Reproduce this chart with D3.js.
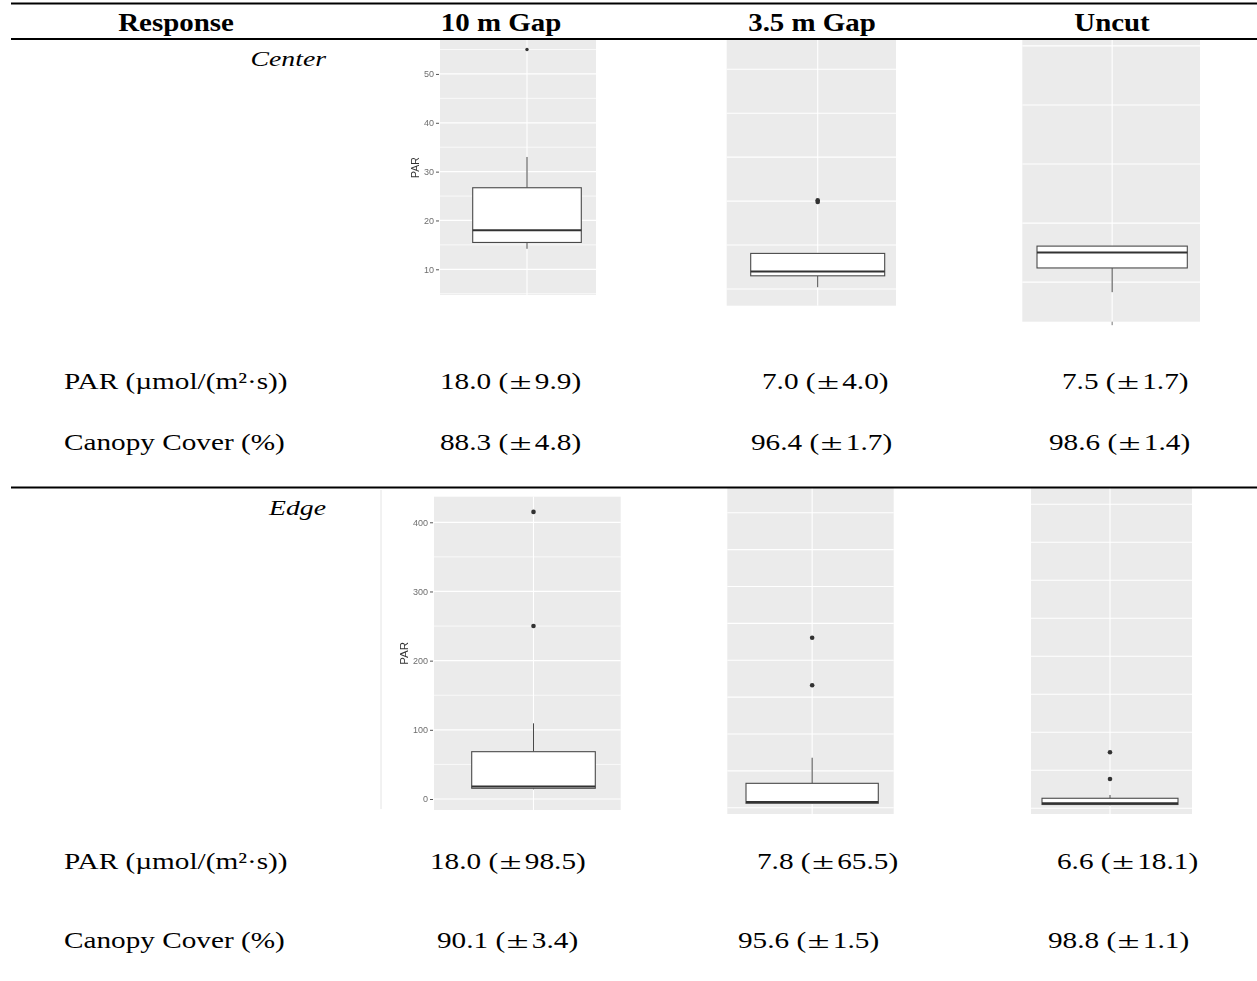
<!DOCTYPE html>
<html>
<head>
<meta charset="utf-8">
<script src="https://cdn.jsdelivr.net/npm/d3@7"></script>
<style>
  body { margin: 0; background: #fff; }
  svg { display: block; }
</style>
</head>
<body>
<svg id="chart" width="1257" height="981"></svg>
<script>
// ---------- table content ----------
const treatments = ["10 m Gap", "3.5 m Gap", "Uncut"];
const positions = ["Center", "Edge"];
const responseLabels = ["PAR (\u00b5mol/(m\u00b2\u00b7s))", "Canopy Cover (%)"];

// summary values (median ± spread) per treatment
const centerPar = [18.0, 7.0, 7.5];
const centerParSpread = [9.9, 4.0, 1.7];
const centerCanopy = [88.3, 96.4, 98.6];
const centerCanopySpread = [4.8, 1.7, 1.4];
const edgePar = [18.0, 7.8, 6.6];
const edgeParSpread = [98.5, 65.5, 18.1];
const edgeCanopy = [90.1, 95.6, 98.8];
const edgeCanopySpread = [3.4, 1.5, 1.1];

// PAR box plot summaries (median comes from the PAR arrays above)
const centerLower = [14.2, 5.2, 6.83];
const centerQ1 = [15.5, 6.5, 7.24];
const centerQ3 = [26.7, 9.05, 7.61];
const centerUpper = [33.0, 9.05, 7.61];
const centerOutliers = [[55.0], [14.9, 15.1], []];
const edgeLower = [14.0, 5.5, 4.0];
const edgeQ1 = [15.5, 6.0, 5.0];
const edgeQ3 = [68.4, 33.1, 13.2];
const edgeUpper = [109.4, 67.8, 17.5];
const edgeOutliers = [[250, 415], [166, 230.5], [38.6, 73.7]];

// axis ticks, grid breaks and y limits of each panel
const centerTicks = [10, 20, 30, 40, 50];
const edgeTicks = [0, 100, 200, 300, 400];
const centerGrid = [
  [5, 10, 15, 20, 25, 30, 35, 40, 45, 50, 55],
  [5, 10, 15, 20, 25, 30],
  [7, 8, 9, 10, 11]
];
const edgeGrid = [
  [0, 50, 100, 150, 200, 250, 300, 350, 400],
  [0, 50, 100, 150, 200, 250, 300, 350, 400],
  [0, 50, 100, 150, 200, 250, 300, 350, 400]
];
const centerLimits = [[4.74, 56.95], [3.1, 33.33], [6.33, 11.1]];
const edgeLimits = [[-15.9, 437], [-8.5, 433.5], [-7.5, 421.4]];

// ---------- layout ----------
const panelLayout = {
  Center: [
    { bg: [440, 596, 40, 295], box: [472.7, 581.3], axis: true, titleSize: 10.5, r: 1.7, xtick: false },
    { bg: [726.7, 896, 40, 305.7], box: [750.7, 884.7], axis: false, r: 2.3, xtick: false },
    { bg: [1022.3, 1200, 40, 321.7], box: [1037, 1187.3], axis: false, r: 2.3, xtick: true }
  ],
  Edge: [
    { bg: [434, 620.7, 496.7, 810], box: [471.7, 595.3], axis: true, titleSize: 11.5, r: 2.3, xtick: false },
    { bg: [727.3, 893.7, 488, 814], box: [746, 878.3], axis: false, r: 2.3, xtick: false },
    { bg: [1031, 1192, 488, 814], box: [1042, 1178], axis: false, r: 2.3, xtick: false }
  ]
};
const headerX = [176, 501, 812, 1112];
const valueX = {
  centerPar: [440, 762, 1062],
  centerCanopy: [440, 751, 1049],
  edgePar: [430, 757, 1057],
  edgeCanopy: [437, 738, 1048]
};

const serif = "'Liberation Serif','Times New Roman',Times,serif";
const sans = "'Liberation Sans',Arial,Helvetica,sans-serif";

const svg = d3.select("#chart");
svg.append("rect").attr("width", 1257).attr("height", 981).attr("fill", "#fff");

const defs = svg.append("defs");
defs.append("filter").attr("id", "soft").attr("x", "-5%").attr("y", "-5%")
  .attr("width", "110%").attr("height", "110%")
  .append("feGaussianBlur").attr("stdDeviation", 0.35);

// ---------- ggplot-style box plot panels ----------
function drawPanel(L, stats, grid, limits, ticks) {
  const g = svg.append("g").attr("filter", "url(#soft)");
  const [x0, x1, y0, y1] = L.bg;
  const y = d3.scaleLinear().domain(limits).range([y1, y0]);
  const x = d3.scaleBand().domain([stats.name]).range(L.box).padding(0);
  const cx = x(stats.name) + x.bandwidth() / 2;

  g.append("rect").attr("x", x0).attr("y", y0).attr("width", x1 - x0).attr("height", y1 - y0)
    .attr("fill", "#ebebeb");

  const major = new Set(ticks || []);
  g.selectAll("line.grid").data(grid.filter(v => y(v) >= y0 && y(v) <= y1)).join("line")
    .attr("x1", x0).attr("x2", x1)
    .attr("y1", d => y(d)).attr("y2", d => y(d))
    .attr("stroke", "#fff")
    .attr("stroke-width", d => (ticks ? (major.has(d) ? 1.2 : 0.7) : 1.1));
  g.append("line").attr("x1", cx).attr("x2", cx).attr("y1", y0).attr("y2", y1)
    .attr("stroke", "#fff").attr("stroke-width", 1.1);

  // whiskers
  g.append("line").attr("x1", cx).attr("x2", cx)
    .attr("y1", y(stats.q3)).attr("y2", y(stats.upper))
    .attr("stroke", "#4a4a4a").attr("stroke-width", 1);
  g.append("line").attr("x1", cx).attr("x2", cx)
    .attr("y1", y(stats.q1)).attr("y2", y(stats.lower))
    .attr("stroke", "#4a4a4a").attr("stroke-width", 1);
  // box
  g.append("rect")
    .attr("x", x(stats.name)).attr("width", x.bandwidth())
    .attr("y", y(stats.q3)).attr("height", Math.max(1, y(stats.q1) - y(stats.q3)))
    .attr("fill", "#fff").attr("stroke", "#4a4a4a").attr("stroke-width", 1.1);
  // median
  g.append("line")
    .attr("x1", x(stats.name)).attr("x2", x(stats.name) + x.bandwidth())
    .attr("y1", y(stats.median)).attr("y2", y(stats.median))
    .attr("stroke", "#333").attr("stroke-width", 2);
  // outliers
  g.selectAll("circle.out").data(stats.outliers).join("circle")
    .attr("cx", cx).attr("cy", d => y(d)).attr("r", L.r).attr("fill", "#333");

  if (L.xtick) {
    g.append("line").attr("x1", cx).attr("x2", cx).attr("y1", y1).attr("y2", y1 + 3.5)
      .attr("stroke", "#777").attr("stroke-width", 1);
  }

  if (L.axis) {
    const ax = g.append("g").attr("transform", `translate(${x0 - 1},0)`)
      .call(d3.axisLeft(y).tickValues(ticks).tickSize(3).tickPadding(2).tickFormat(d3.format("d")));
    ax.select(".domain").remove();
    ax.selectAll(".tick line").attr("stroke", "#555");
    ax.selectAll(".tick text").attr("fill", "#6e6e6e").style("font-family", sans).style("font-size", "9px");
    const bb = ax.node().getBBox();
    g.append("text")
      .attr("transform", `translate(${x0 - 1 + bb.x - 5},${(y0 + y1) / 2}) rotate(-90)`)
      .attr("text-anchor", "middle")
      .style("font-family", sans).style("font-size", L.titleSize + "px").attr("fill", "#333")
      .text("PAR");
  }
}

treatments.forEach((t, i) => {
  drawPanel(panelLayout.Center[i], {
    name: t, lower: centerLower[i], q1: centerQ1[i], median: centerPar[i],
    q3: centerQ3[i], upper: centerUpper[i], outliers: centerOutliers[i]
  }, centerGrid[i], centerLimits[i], i === 0 ? centerTicks : null);
  drawPanel(panelLayout.Edge[i], {
    name: t, lower: edgeLower[i], q1: edgeQ1[i], median: edgePar[i],
    q3: edgeQ3[i], upper: edgeUpper[i], outliers: edgeOutliers[i]
  }, edgeGrid[i], edgeLimits[i], i === 0 ? edgeTicks : null);
});

// faint edge of the embedded Edge / 10 m Gap figure
svg.append("line").attr("x1", 381).attr("x2", 381).attr("y1", 490).attr("y2", 809)
  .attr("stroke", "#e4e4e4").attr("stroke-width", 1);

// ---------- table text ----------
function label(x, y, str, o) {
  return svg.append("text")
    .attr("transform", `translate(${x},${y}) scale(${o.sx},1)`)
    .attr("text-anchor", o.anchor || "start")
    .style("font-family", serif)
    .style("font-size", o.size + "px")
    .style("font-weight", o.weight || "normal")
    .style("font-style", o.style || "normal")
    .attr("fill", "#000")
    .text(str);
}

// header row
label(headerX[0], 31, "Response", { size: 24.5, weight: "bold", sx: 1.18, anchor: "middle" });
treatments.forEach((t, i) =>
  label(headerX[i + 1], 31, t, { size: 24.5, weight: "bold", sx: 1.18, anchor: "middle" }));

// section labels
label(326, 66, positions[0], { size: 21, style: "italic", sx: 1.32, anchor: "end" });
label(326, 515, positions[1], { size: 21, style: "italic", sx: 1.32, anchor: "end" });

// value cells: "18.0 (±9.9)" with a wide plus-minus sign
function valueCell(x, y, v, s) {
  const t = label(x, y, "", { size: 22.5, sx: 1.3 });
  t.append("tspan").text(v.toFixed(1) + " (");
  t.append("tspan").attr("dx", 1).attr("textLength", 17).attr("lengthAdjust", "spacingAndGlyphs")
    .text("\u00b1");
  t.append("tspan").attr("dx", 2.5).text(s.toFixed(1) + ")");
}

const rows = [
  { y: 389, label: responseLabels[0], v: centerPar, s: centerParSpread, x: valueX.centerPar },
  { y: 450, label: responseLabels[1], v: centerCanopy, s: centerCanopySpread, x: valueX.centerCanopy },
  { y: 869, label: responseLabels[0], v: edgePar, s: edgeParSpread, x: valueX.edgePar },
  { y: 948, label: responseLabels[1], v: edgeCanopy, s: edgeCanopySpread, x: valueX.edgeCanopy }
];
rows.forEach(r => {
  label(64, r.y, r.label, { size: 22.5, sx: 1.3 });
  r.v.forEach((v, i) => valueCell(r.x[i], r.y, v, r.s[i]));
});

// ---------- table rules ----------
[[3.5, 2], [39, 1.8], [487.5, 2]].forEach(([yy, w]) =>
  svg.append("line").attr("x1", 11).attr("x2", 1257).attr("y1", yy).attr("y2", yy)
    .attr("stroke", "#000").attr("stroke-width", w));
</script>
</body>
</html>
